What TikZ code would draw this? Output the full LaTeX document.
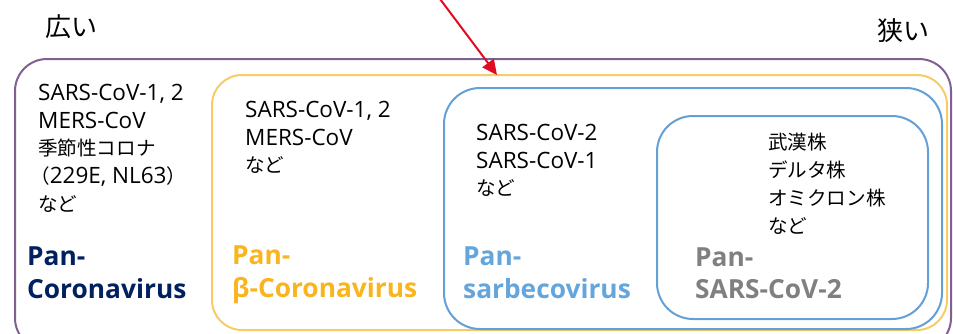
\documentclass[tikz,border=0pt]{standalone}
\usepackage{fontspec}
\setmainfont{Open Sans}
\newfontfamily\jp{Noto Sans CJK JP}[Scale=0.87]
\newfontfamily\jpt{Noto Sans CJK JP}
\usetikzlibrary{arrows.meta}
\definecolor{cpurple}{RGB}{128,96,146}
\definecolor{cyellowline}{RGB}{248,204,100}
\definecolor{cblue}{RGB}{100,160,214}
\definecolor{cnavy}{RGB}{0,32,96}
\definecolor{cyellowtxt}{RGB}{250,180,30}
\definecolor{cbluetxt}{RGB}{100,165,220}
\definecolor{cgraytxt}{RGB}{128,128,128}
\definecolor{cred}{RGB}{225,10,35}
\begin{document}
\begin{tikzpicture}[x=1pt,y=-1pt,
  txt/.style={anchor=base west,inner sep=0pt,font=\fontsize{22.5}{28}\selectfont,text=black},
  lbl/.style={anchor=base west,inner sep=0pt,font=\fontsize{26.3}{33}\selectfont\bfseries},
  top/.style={anchor=base west,inner sep=0pt,font=\jpt\fontsize{26}{30}\selectfont,text=black},
  box/.style={line width=2pt}]
\useasboundingbox (0,0) rectangle (953,333);
% boxes
\draw[box,cpurple,rounded corners=32pt] (15,59) rectangle (951,350);
\draw[box,cyellowline,rounded corners=30pt] (212,75) rectangle (947,330);
\draw[box,cblue,rounded corners=36pt] (444,88) rectangle (942,329);
\draw[box,cblue,rounded corners=36pt] (657,116) rectangle (928,319);
% arrow
\coordinate (as) at (440,-1);
\coordinate (ae) at (497,75);
\draw[cred,line width=2pt,-{Triangle[length=15pt,width=14pt]}] (as) -- (ae);
% top labels
\node[top] (wide) at (45,36) {広い};
\node[top] (narrow) at (877,40) {狭い};
% box 1
\node[txt] (a1) at (38,100) {SARS-CoV-1, 2};
\node[txt] (a2) at (38,128) {MERS-CoV};
\node[txt] (a3) at (38,155) {\jp 季節性コロナ};
\node[txt] (a4) at (30,183) {{\jp （}229E, NL63{\jp ）}};
\node[txt] (a5) at (38,211) {\jp など};
\node[lbl,text=cnavy] (l1a) at (27,265) {Pan-};
\node[lbl,text=cnavy] (l1b) at (27,298) {Coronavirus};
% box 2
\node[txt] (b1) at (245,117) {SARS-CoV-1, 2};
\node[txt] (b2) at (245,145) {MERS-CoV};
\node[txt] (b3) at (245,172) {\jp など};
\node[lbl,text=cyellowtxt] (l2a) at (232,264) {Pan-};
\node[lbl,text=cyellowtxt] (l2b) at (232,297) {β-Coronavirus};
% box 3
\node[txt] (c1) at (476,140) {SARS-CoV-2};
\node[txt] (c2) at (476,168) {SARS-CoV-1};
\node[txt] (c3) at (476,195) {\jp など};
\node[lbl,text=cbluetxt] (l3a) at (463,265) {Pan-};
\node[lbl,text=cbluetxt] (l3b) at (463,298) {sarbecovirus};
% box 4
\node[txt] (d1) at (768,149) {\jp 武漢株};
\node[txt] (d2) at (768,177) {\jp デルタ株};
\node[txt] (d3) at (768,205) {\jp オミクロン株};
\node[txt] (d4) at (768,233) {\jp など};
\node[lbl,text=cgraytxt] (l4a) at (695,266) {Pan-};
\node[lbl,text=cgraytxt] (l4b) at (695,298) {SARS-CoV-2};
\end{tikzpicture}
\end{document}
